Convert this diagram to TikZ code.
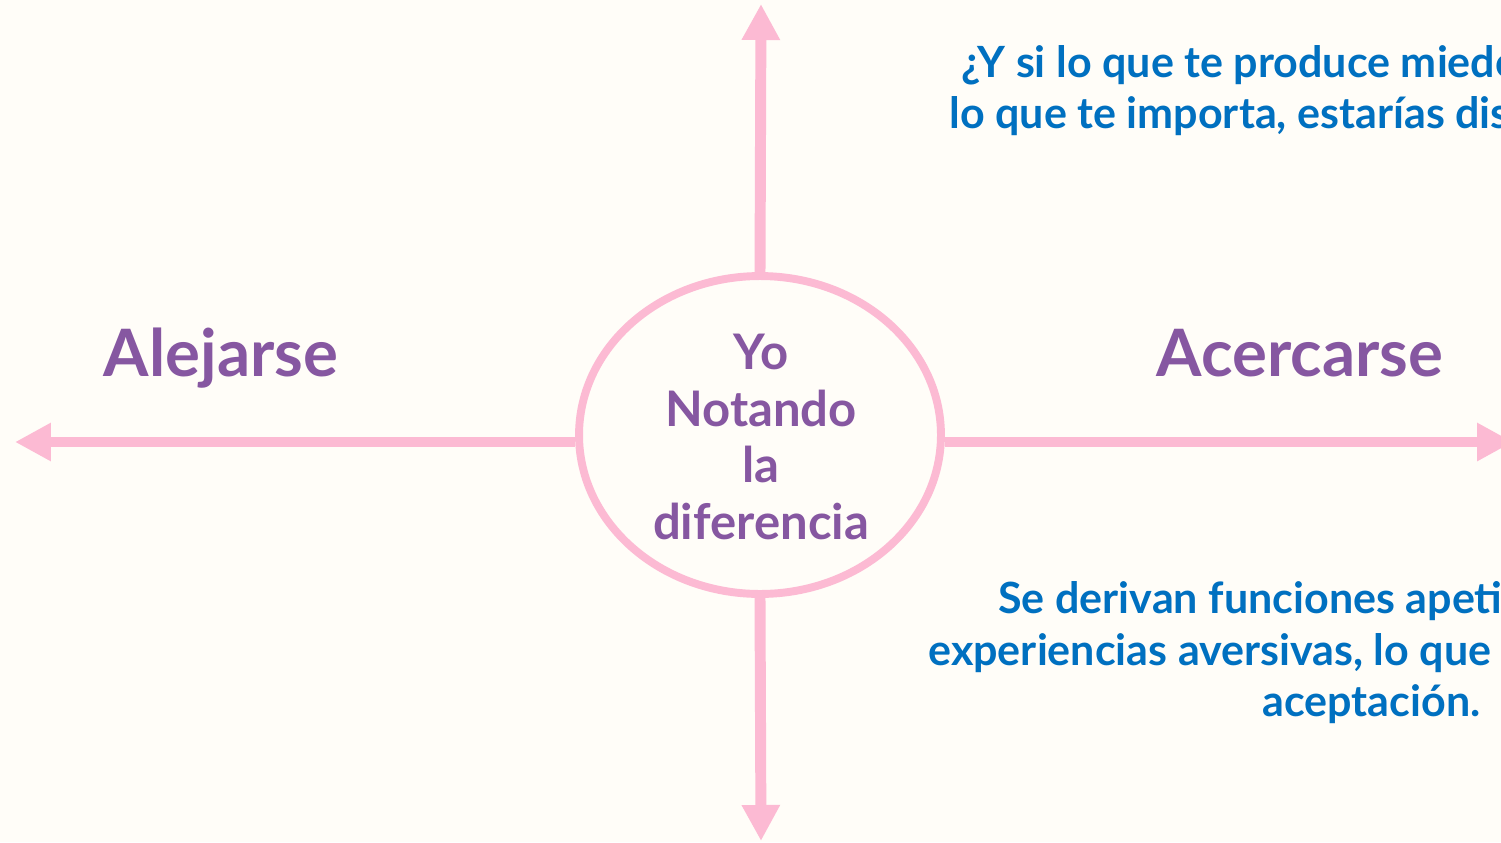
\documentclass[tikz,border=0pt]{standalone}
\usepackage{fontspec}
\setmainfont{Lato}
\usepackage{xcolor}
\usetikzlibrary{shapes}
\usetikzlibrary{calc}
\usetikzlibrary{positioning, arrows.meta}

\definecolor{fondo}{RGB}{255,253,248}
\definecolor{rosa}{RGB}{252,186,211}
\definecolor{morado}{RGB}{134,87,161}
\definecolor{azul}{RGB}{0,112,192}

\begin{document}
\begin{tikzpicture}[x=0.02cm, y=-0.02cm,
    flecha/.style = {draw=rosa, line width=11*0.5669pt, -{Triangle[length=7.2mm, width=7.2mm]}},
    yo/.style = {draw=rosa, line width=4.5pt, ellipse, inner sep=0pt, minimum width=7.24cm, minimum height=6.36cm},
    lado/.style = {text=morado, font=\bfseries\fontsize{37.2}{40}\selectfont, inner sep=0pt, anchor=base},
    centro/.style = {text=morado, font=\bfseries\fontsize{27.9}{32.3}\selectfont, inner sep=0pt, align=center},
    nota/.style = {text=azul, font=\bfseries\fontsize{24.5}{29}\selectfont, inner sep=0pt, anchor=base west}]
                        \useasboundingbox[fill=fondo] (0,0) rectangle (1501,842);
                        \clip (0,0) rectangle (1501,842);
                        \node[yo] (yo) at (760,435) {};
                        \node[centro] (yotxt) at (761,437) {Yo\\Notando\\la\\diferencia};
                        \coordinate (arriba) at (761,4);
                        \coordinate (abajo) at (761,841);
                        \coordinate (izq) at (15,442);
                        \coordinate (der) at (1513,442);
                        \draw[flecha] (yo.north) -- (arriba);
                        \draw[flecha] (yo.south) -- (abajo);
                        \draw[flecha] (yo.west |- izq) -- (izq);
                        \draw[flecha] (yo.east |- der) -- (der);
                        \node[lado] (alejarse) at (221,376) {Alejarse};
                        \node[lado] (acercarse) at (1300,376) {Acercarse};
                        \node[nota] (preg1) at (961,77) {¿Y si lo que te produce miedo};
                        \node[nota] (preg2) at (949,128) {lo que te importa, estarías dis};
                        \node[nota] (deriv1) at (998,613) {Se derivan funciones apeti};
                        \node[nota] (deriv2) at (928,665) {experiencias aversivas, lo que p};
                        \node[nota] (deriv3) at (1262,716) {aceptación.};
                    \end{tikzpicture}
\end{document}
